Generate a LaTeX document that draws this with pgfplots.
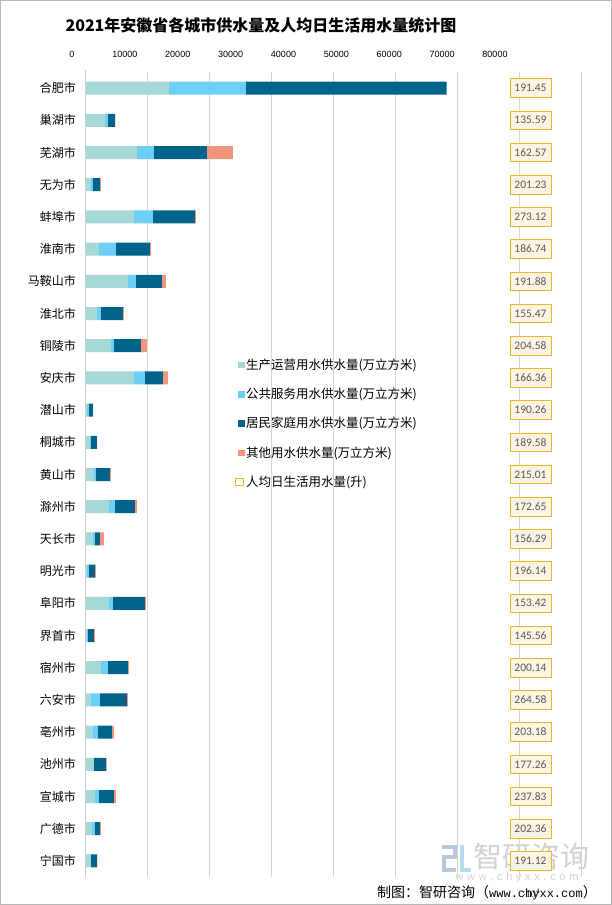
\documentclass[border=0pt]{standalone}
\usepackage{pgfplots}
\pgfplotsset{compat=1.18}
\usepackage{pgfplotstable}
\usepackage{fontspec}
\setmainfont{Noto Sans CJK SC}
\newfontfamily\cjk{Noto Sans CJK SC}
\newfontfamily\labfont{Carlito}
\newfontfamily\tickfont{Liberation Sans}
\newfontfamily\monofont{Liberation Mono}

\definecolor{c1}{HTML}{A5D8D6}
\definecolor{c2}{HTML}{6DCFF6}
\definecolor{c3}{HTML}{00648A}
\definecolor{c4}{HTML}{F0957B}
\definecolor{boxdraw}{HTML}{F2B42E}
\definecolor{boxfill}{HTML}{FDF5E4}
\definecolor{labtext}{HTML}{595959}
\definecolor{gridc}{HTML}{D6D6D6}
\definecolor{axc}{HTML}{CFCFCF}
\definecolor{wmgray}{HTML}{D2D2D2}
\definecolor{wmblue}{HTML}{BAC6DA}
\definecolor{wmcyan}{HTML}{B5DDF0}

\pgfplotstableread{
idx a b c d lx lab
0 13440 12420 32420 0 71800 191.45
1 3120 480 1130 110 71800 135.59
2 8280 2740 8550 4190 71800 162.57
3 860 320 1130 160 71800 201.23
4 7800 3060 6770 160 71800 273.12
5 2150 2740 5480 160 71800 186.74
6 6830 1290 4190 650 71800 191.88
7 1830 645 3550 160 71800 155.47
8 4090 480 4355 970 71800 204.58
9 7800 1770 2900 810 71800 166.36
10 215 320 645 50 71800 190.26
11 700 160 970 50 71800 189.58
12 1340 320 2260 160 71800 215.01
13 3760 970 3230 320 71800 172.65
14 1180 320 810 645 71800 156.29
15 215 320 970 160 71800 196.14
16 3760 645 5160 160 71800 153.42
17 160 215 970 160 71800 145.56
18 2470 1130 3230 160 71800 200.14
19 860 1450 4355 160 71800 264.58
20 1180 810 2260 320 71800 203.18
21 1340 30 1940 110 71800 177.26
22 1500 645 2420 320 71800 237.83
23 1020 480 810 160 71800 202.36
24 860 20 970 50 71800 191.12
}\data

\begin{document}
\begin{tikzpicture}
\useasboundingbox (0,0) rectangle (612pt,905pt);
\fill[white] (0,0) rectangle (612pt,905pt);
\draw[gray!55, line width=0.8pt] (0.4pt,0.4pt) rectangle (611.6pt,904.6pt);
\node[font=\cjk\bfseries\fontsize{16}{16}\selectfont] at (261pt,880pt) {2021年安徽省各城市供水量及人均日生活用水量统计图};

% watermark
\draw[wmblue, line width=3.5pt] (442pt,58pt) -- (455pt,58pt) -- (455pt,48pt) -- (444pt,48pt) -- (444pt,35pt) -- (456pt,35pt);
\draw[wmcyan, line width=3.5pt] (462pt,60pt) -- (462pt,35pt) -- (471pt,35pt);
\node[text=wmgray, font=\cjk\fontsize{29}{29}\selectfont] at (531pt,48pt) {智研咨询};
\node[text=wmgray, font=\tickfont\fontsize{11}{11}\selectfont] at (517pt,27pt) {w\,\,w\,\,w\,\,.\,\,c\,\,h\,\,y\,\,x\,\,x\,\,.\,\,c\,\,o\,\,m};

% footer
\node[anchor=east, inner sep=0pt, font=\fontsize{14}{14}\selectfont] at (597pt,12pt) {\cjk 制图：智研咨询（{\monofont\fontsize{12}{12}\selectfont www.chyxx.com}）};

% tick labels axis
\begin{axis}[
  at={(72pt,28pt)}, anchor=south west, scale only axis,
  width=423pt, height=805pt,
  xmin=0, xmax=80000, ymin=0, ymax=1,
  axis x line*=top, axis y line=none,
  x axis line style={draw=none},
  major tick length=0pt,
  scaled x ticks=false,
  xtick={0,10000,20000,30000,40000,50000,60000,70000,80000},
  xticklabels={0,10000,20000,30000,40000,50000,60000,70000,80000},
  ytick=\empty,
  xticklabel style={font=\tickfont\fontsize{9}{9}\selectfont, yshift=11pt},
]
\end{axis}

% main bars
\begin{axis}[
  at={(85.5pt,28pt)}, anchor=south west, scale only axis,
  width=495.8pt, height=805pt,
  xmin=0, xmax=80000, ymin=-0.5, ymax=24.5, y dir=reverse,
  xbar stacked, bar width=13pt,
  axis line style={draw=none},
  xmajorgrids, grid style={draw=gridc, line width=1pt},
  xtick={10000,20000,30000,40000,50000,60000,70000,80000},
  xticklabel=\empty,
  major tick length=0pt,
  ytick={0,...,24},
  yticklabels={合肥市,巢湖市,芜湖市,无为市,蚌埠市,淮南市,马鞍山市,淮北市,铜陵市,安庆市,潜山市,桐城市,黄山市,滁州市,天长市,明光市,阜阳市,界首市,宿州市,六安市,亳州市,池州市,宣城市,广德市,宁国市},
  yticklabel style={font=\cjk\fontsize{12}{12}\selectfont, xshift=-6pt},
  clip=false,
]
\draw[axc, line width=1pt] (axis cs:0,-0.55) -- (axis cs:0,24.5);
\addplot[fill=c1, draw=none] table[x=a, y=idx] {\data};
\addplot[fill=c2, draw=none] table[x=b, y=idx] {\data};
\addplot[fill=c3, draw=none] table[x=c, y=idx] {\data};
\addplot[fill=c4, draw=none] table[x=d, y=idx] {\data};
\end{axis}

% value labels + legend
\begin{axis}[
  at={(85.5pt,28pt)}, anchor=south west, scale only axis,
  width=495.8pt, height=805pt,
  xmin=0, xmax=80000, ymin=-0.5, ymax=24.5, y dir=reverse,
  hide axis, clip=false,
  legend cell align=left,
  legend style={at={(0.2955,0.649)}, anchor=north west, draw=none, fill=none,
    font=\cjk\fontsize{12.5}{12.5}\selectfont, row sep=13.2pt,
    /tikz/every even column/.append style={column sep=2pt}},
]
\addlegendimage{legend image code/.code={\fill[c1] (3pt,-2.75pt) rectangle (8.5pt,2.75pt);}}
\addlegendentry{生产运营用水供水量(万立方米)}
\addlegendimage{legend image code/.code={\fill[c2] (3pt,-2.75pt) rectangle (8.5pt,2.75pt);}}
\addlegendentry{公共服务用水供水量(万立方米)}
\addlegendimage{legend image code/.code={\fill[c3] (3pt,-2.75pt) rectangle (8.5pt,2.75pt);}}
\addlegendentry{居民家庭用水供水量(万立方米)}
\addlegendimage{legend image code/.code={\fill[c4] (3pt,-2.75pt) rectangle (8.5pt,2.75pt);}}
\addlegendentry{其他用水供水量(万立方米)}
\addlegendimage{legend image code/.code={\draw[boxdraw, line width=1pt] (0.5pt,-3.8pt) rectangle (8.3pt,3.8pt);}}
\addlegendentry{人均日生活用水量(升)}
\addplot[draw=none, mark=none, forget plot,
  nodes near coords, point meta=explicit symbolic,
  nodes near coords style={anchor=center, draw=boxdraw, fill=boxfill, line width=0.9pt,
    text=labtext, font=\labfont\fontsize{11.5}{11.5}\selectfont,
    minimum width=41pt, minimum height=18.5pt, inner sep=1pt}]
  table[x=lx, y=idx, meta=lab] {\data};
\end{axis}
\end{tikzpicture}
\end{document}
